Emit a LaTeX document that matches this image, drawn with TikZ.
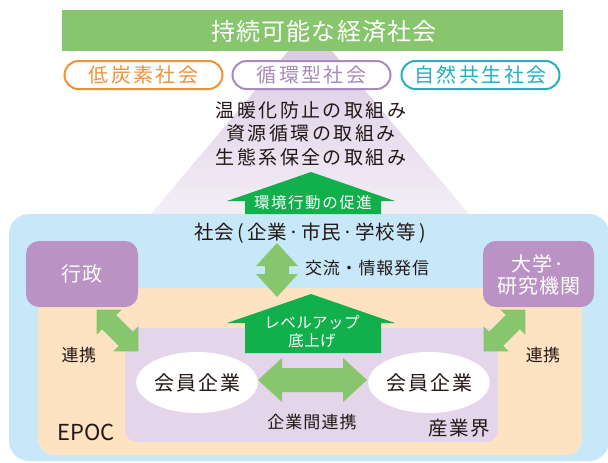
\documentclass[tikz,border=0pt]{standalone}
\usepackage{fontspec}
\setmainfont{Noto Sans CJK JP}
\usetikzlibrary{shapes.geometric}
\definecolor{lightgreen}{HTML}{88C66E}
\definecolor{darkgreen}{HTML}{12B04C}
\definecolor{boxpurple}{HTML}{BA93C4}
\definecolor{skyblue}{HTML}{C6E8F8}
\definecolor{peach}{HTML}{FDE3C2}
\definecolor{lavender}{HTML}{E4D5EA}
\definecolor{pillorange}{HTML}{EF9237}
\definecolor{pillpurple}{HTML}{A98ABF}
\definecolor{pillteal}{HTML}{25B0C2}
\definecolor{textdark}{HTML}{231815}
\definecolor{triTop}{HTML}{D8C6E3}
\definecolor{triBot}{HTML}{F4F0F7}
\newcommand\myfs[1]{\fontsize{#1pt}{#1pt}\selectfont}
\newcommand\myls[1]{\addfontfeatures{LetterSpace=#1}}
\newcommand\dblarr[7]{%
  \coordinate (#1) at #2;
  \begin{scope}[shift={#2}, rotate=#3]
    \fill[lightgreen] ({-#4/2},0) -- ({-#4/2+#5},{#6/2}) -- ({-#4/2+#5},{#7/2})
      -- ({#4/2-#5},{#7/2}) -- ({#4/2-#5},{#6/2}) -- ({#4/2},0)
      -- ({#4/2-#5},{-#6/2}) -- ({#4/2-#5},{-#7/2}) -- ({-#4/2+#5},{-#7/2})
      -- ({-#4/2+#5},{-#6/2}) -- cycle;
  \end{scope}}
\tikzset{
  txt/.style={inner sep=0pt, outer sep=0pt, text=textdark},
  pill/.style={draw=#1, text=#1, line width=2pt, rounded corners=14pt, fill=white,
    minimum width=158pt, minimum height=28pt, inner sep=0pt, font=\myfs{20}\myls{12}},
  pbox/.style={fill=boxpurple, rounded corners=13pt, text=white, inner sep=0pt,
    font=\myfs{20}\myls{5}, align=center},
  member/.style={ellipse, fill=white, minimum height=61pt, inner sep=0pt,
    text=textdark, font=\myfs{20}\myls{10}},
}
\begin{document}
\begin{tikzpicture}[x=1pt, y=-1pt]
\useasboundingbox (0,0) rectangle (608,463);
\clip (0,0) rectangle (608,463);
% background triangle
\shade[top color=triTop, bottom color=triBot] (310,25) -- (146,220) -- (474,220) -- cycle;
% banner
\node[fill=lightgreen, minimum width=501pt, minimum height=41pt, inner sep=0pt, anchor=north west] (banner) at (62,10) {};
\node[inner sep=0pt, text=white, font=\myfs{24}\myls{5}] (bannertxt) at (324,31) {持続可能な経済社会};
% pills
\node[pill=pillorange] (low) at (143.5,75) {低炭素社会};
\node[pill=pillpurple] (cyc) at (311.5,75) {循環型社会};
\node[pill=pillteal] (nat) at (480.5,75) {自然共生社会};
% three lines
\node[txt, font=\myfs{19}\myls{13}] (l1) at (311,110) {温暖化防止の取組み};
\node[txt, font=\myfs{19}\myls{13}] (l2) at (311,133) {資源循環の取組み};
\node[txt, font=\myfs{19}\myls{13}] (l3) at (311,157) {生態系保全の取組み};
% outer boxes
\fill[skyblue, rounded corners=20pt] (9,214) rectangle (609,461);
\coordinate (society) at (309,214);
\fill[peach, rounded corners=16pt] (38,288) rectangle (582,455);
\fill[lavender, rounded corners=12pt] (125,328) rectangle (498,442);
% promotion arrow
\fill[darkgreen] (311,172) -- (395,201) -- (381,201) -- (381,214) -- (245,214) -- (245,201) -- (227,201) -- cycle;
\node[inner sep=0pt, text=white, font=\myfs{15.5}\myls{10}] (promo) at (313,203) {環境行動の促進};
% society label
\node[txt, font=\myfs{19.5}\myls{7}] (soc) at (310,233) {社会\kern3pt(\kern3pt企業·市民·学校等\kern3pt)};
% side boxes
\node[pbox, minimum width=112pt, minimum height=66pt] (gov) at (82,274) {行政};
\node[pbox, minimum width=111pt, minimum height=66pt, text depth=0pt] (univ) at (538.5,274) {大学·\\[2pt]研究機関};
% exchange arrow
\dblarr{exch}{(277,270)}{90}{54}{23}{42}{24}
\node[txt, font=\myfs{17}\myls{5}, anchor=west] (exchtxt) at (305,268) {交流・情報発信};
% level-up arrow
\fill[darkgreen] (311,294) -- (395,323) -- (381,323) -- (381,353) -- (245,353) -- (245,323) -- (227,323) -- cycle;
\node[inner sep=0pt, text=white, font=\myfs{15.5}\myls{3}, align=center] (lvl) at (312,331.5) {レベルアップ\\[3pt]底上げ};
% cooperation arrows
\dblarr{coopL}{(117.5,330.5)}{-45}{59}{17.7}{35.4}{20}
\dblarr{coopR}{(504.5,330.5)}{45}{59}{17.7}{35.4}{20}
\node[txt, font=\myfs{17}\myls{3}] (coopLtxt) at (79,355) {連携};
\node[txt, font=\myfs{17}\myls{3}] (coopRtxt) at (543,355) {連携};
% members
\node[member, minimum width=118pt] (m1) at (197,382.5) {会員企業};
\node[member, minimum width=121pt] (m2) at (429,382.5) {会員企業};
\dblarr{inter}{(312.5,380)}{0}{109}{24}{44}{24}
\node[txt, font=\myfs{17}\myls{6}] (intertxt) at (312,422) {企業間連携};
\node[txt, font=\myfs{19.5}\myls{8}] (industry) at (459,428) {産業界};
\node[txt, font=\myfs{22}] (epoc) at (86,432) {EPOC};
\end{tikzpicture}
\end{document}
